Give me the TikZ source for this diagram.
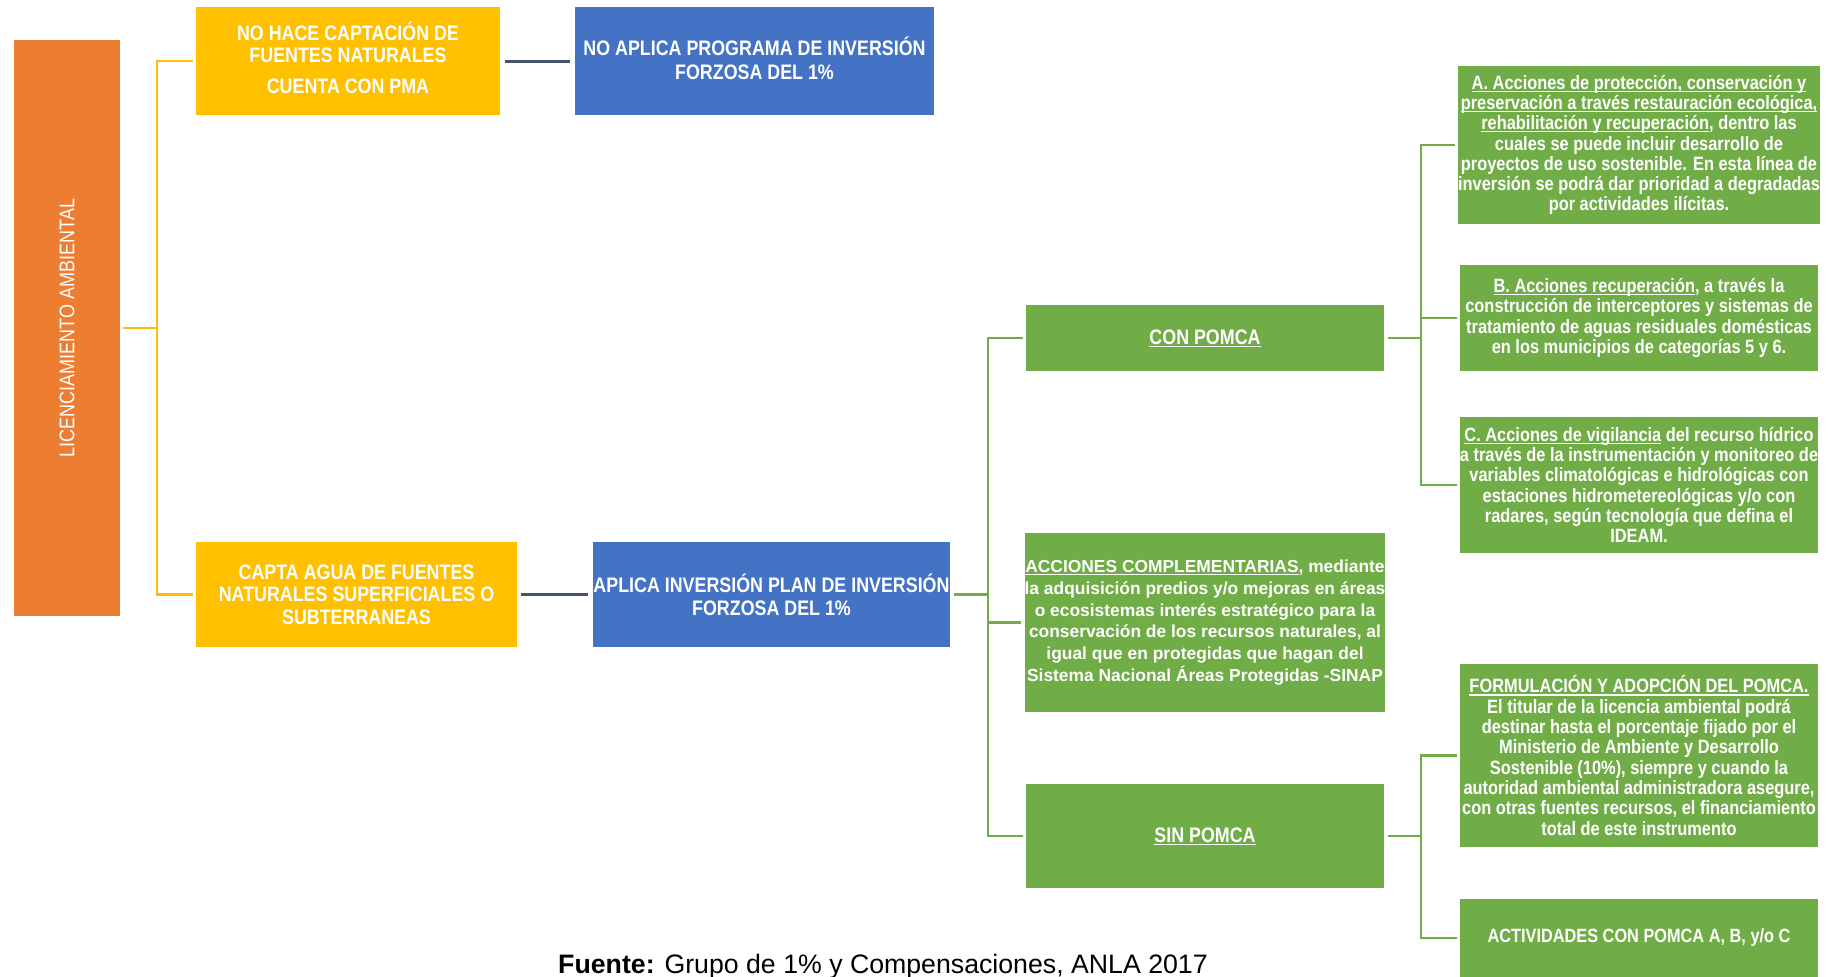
\documentclass[tikz,border=0pt]{standalone}
\usepackage{graphicx}
\usepackage{fontspec}
\setmainfont{Liberation Sans}
\newfontfamily\nar[FakeStretch=0.85]{Liberation Sans}
\definecolor{lorange}{HTML}{ED7D31}
\definecolor{lyellow}{HTML}{FFC000}
\definecolor{lblue}{HTML}{4472C4}
\definecolor{lgreen}{HTML}{70AD47}
\definecolor{lslate}{HTML}{44546A}
\newcommand\ulx[1]{\setbox0\hbox{#1}\rlap{\rule[-2.6pt]{\wd0}{1.1pt}}\box0\relax}
\tikzset{
  box/.style={inner sep=0pt, align=center, text=white, font=\nar\bfseries},
  sz/.style 2 args={minimum width=#1pt, minimum height=#2pt},
  yline/.style={draw=lyellow, line width=2.5pt},
  sline/.style={draw=lslate, line width=3pt},
  gline/.style={draw=lgreen, line width=2.2pt},
  big/.style={font=\nar\bfseries\fontsize{21}{23.4}\selectfont},
  small/.style={font=\nar\bfseries\fontsize{19.3}{20.3}\selectfont},
}
\begin{document}
\begin{tikzpicture}[x=1pt,y=-1pt]
\useasboundingbox (0,0) rectangle (1837,977);
% nodes
\node[box, fill=lorange, sz={106}{576}, font=\nar\fontsize{21.2}{22}\selectfont] (lic) at (67,328)
  {\rotatebox{90}{LICENCIAMIENTO AMBIENTAL}};
\node[box, fill=lyellow, sz={304}{108}, font=\nar\bfseries\fontsize{21}{22}\selectfont] (y1) at (348,61)
  {NO HACE CAPTACIÓN DE\\FUENTES NATURALES\\[9pt]CUENTA CON PMA\\[-16pt]};
\node[box, fill=lblue, sz={359}{108}, big] (b1) at (754.5,61)
  {NO APLICA PROGRAMA DE INVERSIÓN\\FORZOSA DEL 1\%\\[-18pt]};
\node[box, fill=lyellow, sz={321}{105}, font=\nar\bfseries\fontsize{21}{22.3}\selectfont] (y2) at (356.5,594.5)
  {CAPTA AGUA DE FUENTES\\NATURALES SUPERFICIALES O\\SUBTERRANEAS};
\node[box, fill=lblue, sz={357}{105}, big] (b2) at (771.5,594.5)
  {APLICA INVERSIÓN PLAN DE INVERSIÓN\\FORZOSA DEL 1\%};
\node[box, fill=lgreen, sz={358}{66}, big] (con) at (1205,338) {\ulx{CON POMCA}};
\node[box, fill=lgreen, sz={358}{179}, font=\bfseries\fontsize{17.4}{21.8}\selectfont] (acc) at (1205,622.5)
  {\ulx{ACCIONES COMPLEMENTARIAS}, mediante\\la adquisición predios y/o mejoras en áreas\\o ecosistemas interés estratégico para la\\conservación de los recursos naturales, al\\igual que en protegidas que hagan del\\Sistema Nacional Áreas Protegidas -SINAP};
\node[box, fill=lgreen, sz={358}{104}, big] (sin) at (1205,836) {\ulx{SIN POMCA}};
\node[box, fill=lgreen, sz={358}{158}, small] (ra) at (1639,145)
  {\ulx{A. Acciones de protección, conservación y}\\\ulx{preservación a través restauración ecológica,}\\\ulx{rehabilitación y recuperación}, dentro las\\cuales se puede incluir desarrollo de\\proyectos de uso sostenible. En esta línea de\\inversión se podrá dar prioridad a degradadas\\por actividades ilícitas.};
\node[box, fill=lgreen, sz={358}{106}, small] (rb) at (1639,318)
  {\ulx{B. Acciones recuperación}, a través la\\construcción de interceptores y sistemas de\\tratamiento de aguas residuales domésticas\\en los municipios de categorías 5 y 6.};
\node[box, fill=lgreen, sz={358}{136}, small] (rc) at (1639,485)
  {\ulx{C. Acciones de vigilancia} del recurso hídrico\\a través de la instrumentación y monitoreo de\\variables climatológicas e hidrológicas con\\estaciones hidrometereológicas y/o con\\radares, según tecnología que defina el\\IDEAM.};
\node[box, fill=lgreen, sz={358}{183}, small] (rf) at (1639,755.5)
  {\ulx{FORMULACIÓN Y ADOPCIÓN DEL POMCA.}\\El titular de la licencia ambiental podrá\\destinar hasta el porcentaje fijado por el\\Ministerio de Ambiente y Desarrollo\\Sostenible (10\%), siempre y cuando la\\autoridad ambiental administradora asegure,\\con otras fuentes recursos, el financiamiento\\total de este instrumento};
\node[box, fill=lgreen, sz={358}{78}, font=\nar\bfseries\fontsize{19.2}{21}\selectfont] (ract) at (1639,938)
  {ACTIVIDADES CON POMCA A, B, y/o C};
\node[anchor=base, inner sep=0pt, font=\fontsize{26.7}{30}\selectfont] (cap) at (883,973)
  {\textbf{Fuente:} Grupo de 1\% y Compensaciones, ANLA 2017};
% junction coordinates
\coordinate (j1) at (157,0);
\coordinate (j2) at (988,0);
\coordinate (j3) at (1421,0);
% connectors
\draw[yline] ([xshift=3pt]lic.east) -| (j1 |- y1) -- ([xshift=-3pt]y1.west);
\draw[yline] ([xshift=3pt]lic.east) -| (j1 |- y2) -- ([xshift=-3pt]y2.west);
\draw[sline] ([xshift=5pt]y1.east) -- ([xshift=-5pt]b1.west);
\draw[sline] ([xshift=4pt]y2.east) -- ([xshift=-5pt]b2.west);
\draw[gline] ([xshift=4pt]b2.east) -| (j2 |- con) -- ([xshift=-3pt]con.west);
\draw[gline] ([xshift=4pt]b2.east) -| (j2 |- acc) -- ([xshift=-3pt]acc.west);
\draw[gline] ([xshift=4pt]b2.east) -| (j2 |- sin) -- ([xshift=-3pt]sin.west);
\draw[gline] ([xshift=4pt]con.east) -| (j3 |- ra) -- ([xshift=-3pt]ra.west);
\draw[gline] ([xshift=4pt]con.east) -| (j3 |- rb) -- ([xshift=-3pt]rb.west);
\draw[gline] ([xshift=4pt]con.east) -| (j3 |- rc) -- ([xshift=-3pt]rc.west);
\draw[gline] ([xshift=4pt]sin.east) -| (j3 |- rf) -- ([xshift=-3pt]rf.west);
\draw[gline] ([xshift=4pt]sin.east) -| (j3 |- ract) -- ([xshift=-3pt]ract.west);
\end{tikzpicture}
\end{document}
